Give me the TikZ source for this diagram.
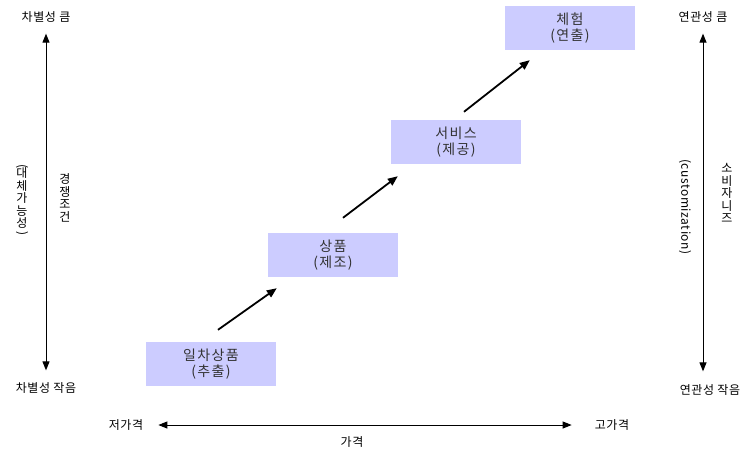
\documentclass[tikz,border=0pt]{standalone}
\usepackage{fontspec}
\setmainfont{Noto Sans CJK KR}
\usetikzlibrary{arrows.meta}

\begin{document}
\begin{tikzpicture}[x=1pt, y=-1pt,
		stagebox/.style={fill=blue!20, text=black!80, minimum width=130pt, minimum height=44pt, align=center, font=\fontsize{14}{16.5}\selectfont\addfontfeature{LetterSpace=10}, inner sep=0pt},
		axislabel/.style={font=\fontsize{12}{14}\selectfont\addfontfeature{LetterSpace=5}, inner sep=1pt},
		stacklabel/.style={font=\fontsize{12}{12.5}\selectfont, align=center, inner sep=0pt},
		axis/.style={{Triangle[length=9pt, width=7pt]}-{Triangle[length=9pt, width=7pt]}, line width=1pt},
		climb/.style={-{Triangle[length=10pt, width=8pt]}, line width=1.8pt}]
	\useasboundingbox (0,0) rectangle (754,450);
	% stages
	\node[stagebox] (raw) at (211,364) {일차상품\\(추출)};
	\node[stagebox] (goods) at (333,255) {상품\\(제조)};
	\node[stagebox] (service) at (456,142) {서비스\\(제공)};
	\node[stagebox] (experience) at (570,28) {체험\\(연출)};
	\draw[climb] ([xshift=7pt, yshift=12pt]raw.north) -- ([xshift=9pt, yshift=-11pt]goods.south west);
	\draw[climb] ([xshift=10pt, yshift=15pt]goods.north) -- ([xshift=7pt, yshift=-12pt]service.south west);
	\draw[climb] ([xshift=8pt, yshift=8pt]service.north) -- ([xshift=25pt, yshift=-10pt]experience.south west);
	% left axis
	\node[axislabel] (diffhigh) at (46,17) {차별성 큼};
	\node[axislabel] (difflow) at (46,388) {차별성 작음};
	\draw[axis, shorten <=10pt, shorten >=11pt] (diffhigh) -- (difflow);
	\node[stacklabel] (subst) at (22,201) {\rotatebox[origin=c]{-90}{(}\\[-5pt]대\\체\\가\\능\\성\\[-3pt]\rotatebox[origin=c]{-90}{)}};
	\node[stacklabel] (compete) at (65,198) {경\\쟁\\조\\건};
	% right axis
	\node[axislabel] (relhigh) at (703,17) {연관성 큼};
	\node[axislabel] (rellow) at (710,390) {연관성 작음};
	\draw[axis, shorten <=10pt, shorten >=12pt] (relhigh) -- (rellow.north -| relhigh);
	\node[stacklabel, rotate=-90, font=\fontsize{12}{12.5}\selectfont\addfontfeature{LetterSpace=5}] (custom) at (685,207) {(customization)};
	\node[stacklabel] (needs) at (727,193) {소\\비\\자\\니\\즈};
	% price axis
	\node[axislabel] (lowprice) at (126,425) {저가격};
	\node[axislabel] (highprice) at (612,425) {고가격};
	\draw[axis, shorten <=14pt, shorten >=22pt] (lowprice) -- (highprice);
	\node[axislabel] (price) at (352,442) {가격};
\end{tikzpicture}
\end{document}
